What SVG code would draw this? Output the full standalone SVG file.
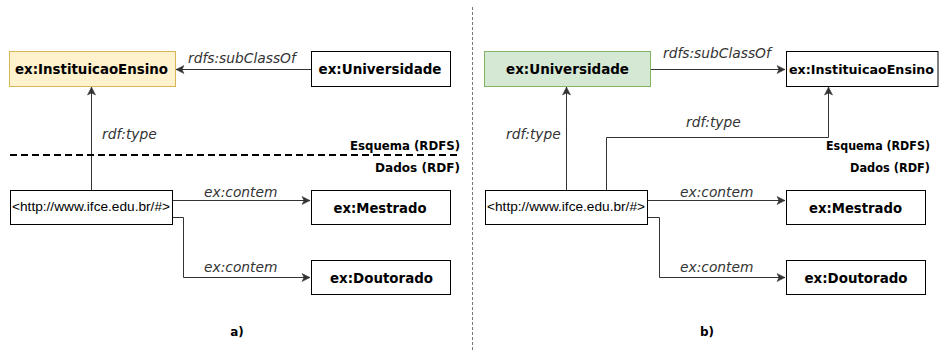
<svg xmlns="http://www.w3.org/2000/svg" width="939" height="351" viewBox="0 0 939 351">
<style>
.node{fill:#ffffff;stroke:#000000;stroke-width:1}
.yel{fill:#fff2cc;stroke:#d6b656}
.grn{fill:#d5e8d4;stroke:#82b366}
.lbl{font-family:"DejaVu Sans",Verdana,sans-serif;font-weight:bold;font-size:14px;fill:#000}
.url{font-family:"Liberation Sans",Arial,sans-serif;font-size:12.5px;fill:#000}
.edge{fill:none;stroke:#333333;stroke-width:1}
.elbl{font-family:"DejaVu Sans",Verdana,sans-serif;font-style:italic;font-size:13.8px;fill:#333333}
.zone{font-family:"DejaVu Sans",Verdana,sans-serif;font-weight:bold;font-size:12px;fill:#000;text-anchor:end}
.cap{font-family:"DejaVu Sans",Verdana,sans-serif;font-weight:bold;font-size:12px;fill:#000;text-anchor:middle}
</style>
<defs>
<marker id="arr" markerUnits="userSpaceOnUse" markerWidth="10" markerHeight="10" viewBox="0 0 10 10" refX="9" refY="5" orient="auto">
<path d="M1,1 L9,5 L1,9 L3,5 Z" fill="#333333" stroke="#333333" stroke-width="0.5"/>
</marker>
</defs>
<rect width="939" height="351" fill="#ffffff"/>

<g id="divider">
<path d="M472.5,7 L472.5,351" stroke="#777777" stroke-width="1" stroke-dasharray="3 2" fill="none"/>
</g>

<g id="connectors">
<!-- panel a -->
<path class="edge" d="M311,69.5 L176,69.5" marker-end="url(#arr)"/>
<path class="edge" d="M91.5,190 L91.5,87" marker-end="url(#arr)"/>
<path class="edge" d="M173,200.5 L310,200.5" marker-end="url(#arr)"/>
<path class="edge" d="M173,217.5 L183.5,217.5 L183.5,277.5 L310,277.5" marker-end="url(#arr)"/>
<!-- panel b -->
<path class="edge" d="M651,69.5 L785,69.5" marker-end="url(#arr)"/>
<path class="edge" d="M566.5,190 L566.5,87" marker-end="url(#arr)"/>
<path class="edge" d="M606.5,190 L606.5,137.5 L828.5,137.5 L828.5,87" marker-end="url(#arr)"/>
<path class="edge" d="M648,200.5 L785,200.5" marker-end="url(#arr)"/>
<path class="edge" d="M648,217.5 L659.5,217.5 L659.5,277.5 L785,277.5" marker-end="url(#arr)"/>
<!-- edge labels -->
<text class="elbl" x="188" y="63">rdfs:subClassOf</text>
<text class="elbl" x="102" y="139">rdf:type</text>
<text class="elbl" x="204" y="197">ex:contem</text>
<text class="elbl" x="204" y="272">ex:contem</text>
<text class="elbl" x="663" y="58">rdfs:subClassOf</text>
<text class="elbl" x="506" y="139">rdf:type</text>
<text class="elbl" x="686" y="127">rdf:type</text>
<text class="elbl" x="680" y="197">ex:contem</text>
<text class="elbl" x="680" y="272">ex:contem</text>
</g>

<g id="schema-line-a">
<path d="M10,155 L461,155" stroke="#000000" stroke-width="2" stroke-dasharray="7 4" fill="none"/>
<text class="zone" x="460" y="150" textLength="110" lengthAdjust="spacingAndGlyphs">Esquema (RDFS)</text>
<text class="zone" x="460" y="172" textLength="85" lengthAdjust="spacingAndGlyphs">Dados (RDF)</text>
</g>
<g id="schema-labels-b">
<text class="zone" x="930" y="150" textLength="104" lengthAdjust="spacingAndGlyphs">Esquema (RDFS)</text>
<text class="zone" x="930" y="172" textLength="80" lengthAdjust="spacingAndGlyphs">Dados (RDF)</text>
</g>

<!-- panel a nodes -->
<g id="a-instituicao">
<rect class="node yel" x="9.5" y="51.5" width="166" height="35"/>
<text class="lbl" x="15" y="74" textLength="153" lengthAdjust="spacingAndGlyphs">ex:InstituicaoEnsino</text>
</g>
<g id="a-universidade">
<rect class="node" x="311.5" y="51.5" width="139" height="35"/>
<text class="lbl" x="318.5" y="74" textLength="123" lengthAdjust="spacingAndGlyphs">ex:Universidade</text>
</g>
<g id="a-ifce">
<rect class="node" x="10.5" y="190.5" width="162" height="34"/>
<text class="url" x="12" y="211" textLength="158" lengthAdjust="spacingAndGlyphs">&lt;http://www.ifce.edu.br/#&gt;</text>
</g>
<g id="a-mestrado">
<rect class="node" x="311.5" y="190.5" width="139" height="34"/>
<text class="lbl" x="333.5" y="213" textLength="93" lengthAdjust="spacingAndGlyphs">ex:Mestrado</text>
</g>
<g id="a-doutorado">
<rect class="node" x="311.5" y="260.5" width="139" height="34"/>
<text class="lbl" x="330" y="283" textLength="103" lengthAdjust="spacingAndGlyphs">ex:Doutorado</text>
</g>
<text class="cap" x="237" y="336">a)</text>

<!-- panel b nodes -->
<g id="b-universidade">
<rect class="node grn" x="484.5" y="51.5" width="166" height="35"/>
<text class="lbl" x="506" y="74" textLength="123" lengthAdjust="spacingAndGlyphs">ex:Universidade</text>
</g>
<g id="b-instituicao">
<rect class="node" x="786.5" y="51.5" width="151.5" height="35"/>
<text class="lbl" x="789" y="74" style="font-size:12.5px" textLength="145" lengthAdjust="spacingAndGlyphs">ex:InstituicaoEnsino</text>
</g>
<g id="b-ifce">
<rect class="node" x="485.5" y="190.5" width="162" height="34"/>
<text class="url" x="487" y="211" textLength="158" lengthAdjust="spacingAndGlyphs">&lt;http://www.ifce.edu.br/#&gt;</text>
</g>
<g id="b-mestrado">
<rect class="node" x="786.5" y="190.5" width="139" height="34"/>
<text class="lbl" x="809" y="213" textLength="93" lengthAdjust="spacingAndGlyphs">ex:Mestrado</text>
</g>
<g id="b-doutorado">
<rect class="node" x="786.5" y="260.5" width="139" height="34"/>
<text class="lbl" x="804.5" y="283" textLength="103" lengthAdjust="spacingAndGlyphs">ex:Doutorado</text>
</g>
<text class="cap" x="707" y="336">b)</text>
</svg>
